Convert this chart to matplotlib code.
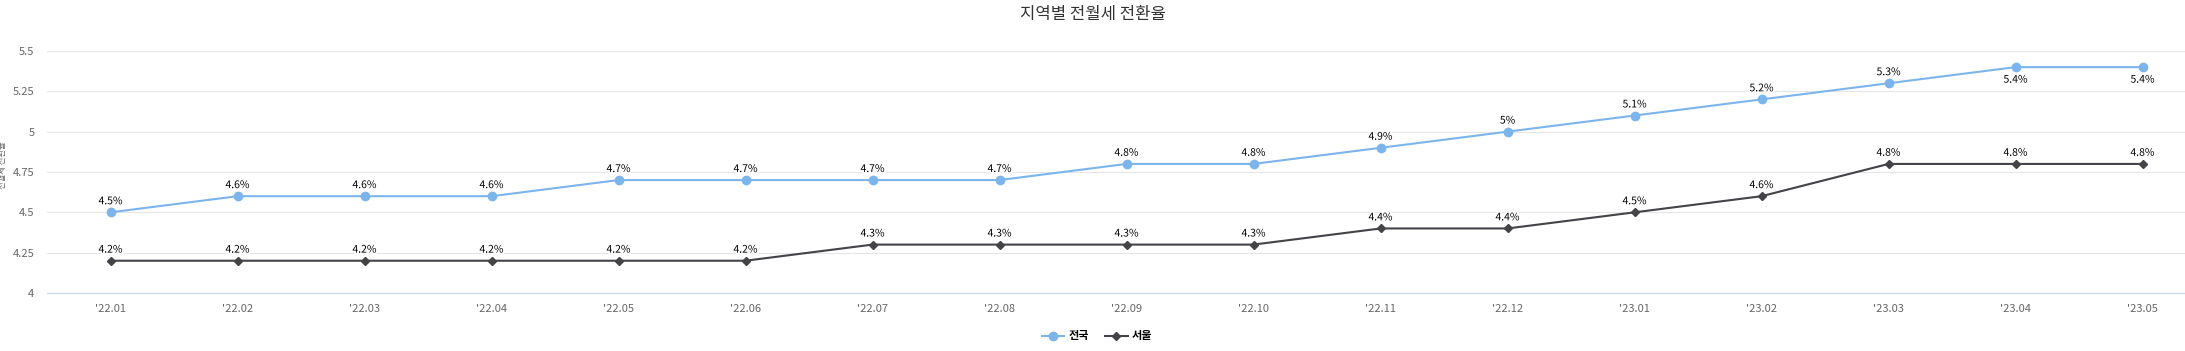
import numpy as np
import matplotlib
matplotlib.use("Agg")
import matplotlib.pyplot as plt
import matplotlib.patheffects as pe

plt.rcParams['font.family'] = ['Noto Sans CJK KR', 'DejaVu Sans']

months = ["'22.01", "'22.02", "'22.03", "'22.04", "'22.05", "'22.06", "'22.07", "'22.08", "'22.09",
          "'22.10", "'22.11", "'22.12", "'23.01", "'23.02", "'23.03", "'23.04", "'23.05"]
nationwide = [4.5, 4.6, 4.6, 4.6, 4.7, 4.7, 4.7, 4.7, 4.8, 4.8, 4.9, 5.0, 5.1, 5.2, 5.3, 5.4, 5.4]
seoul = [4.2, 4.2, 4.2, 4.2, 4.2, 4.2, 4.3, 4.3, 4.3, 4.3, 4.4, 4.4, 4.5, 4.6, 4.8, 4.8, 4.8]
y_ticks = [4, 4.25, 4.5, 4.75, 5, 5.25, 5.5]

W, H = 2185, 351
fig = plt.figure(figsize=(W / 100, H / 100), dpi=100)
ax = fig.add_axes([47 / W, 1 - 293 / H, (2206 - 47) / W, (293 - 51) / H])

x = np.arange(len(months))
ax.plot(x, nationwide, color='#7cb5ec', lw=1.5, marker='o', ms=6, label='전국', zorder=3)
ax.plot(x, seoul, color='#434348', lw=1.5, marker='D', ms=4, label='서울', zorder=3)

outline = [pe.withStroke(linewidth=2.5, foreground='white')]
for series in (nationwide, seoul):
    for i, v in enumerate(series):
        txt = f"{v:g}%"
        if v >= 5.4:
            ax.annotate(txt, (i, v), xytext=(0, -9), textcoords='offset points', ha='center', va='center',
                        fontsize=7.5, color='black', path_effects=outline, zorder=4)
        else:
            ax.annotate(txt, (i, v), xytext=(0, 8), textcoords='offset points', ha='center', va='center',
                        fontsize=7.5, color='black', path_effects=outline, zorder=4)

ax.set_xlim(-0.5, len(months) - 0.5)
ax.set_ylim(4, 5.5)
ax.set_xticks(x)
ax.set_xticklabels(months)
ax.set_yticks(y_ticks)
ax.set_yticklabels([f"{t:g}" for t in y_ticks])
ax.tick_params(axis='both', length=0, labelsize=8, colors='#666666')
ax.tick_params(axis='x', pad=8)
ax.tick_params(axis='y', pad=9)
ax.grid(axis='y', color='#e6e6e6', lw=0.8)
ax.set_axisbelow(True)
for s in ['top', 'right', 'left']:
    ax.spines[s].set_visible(False)
ax.spines['bottom'].set_color('#ccd6eb')
ax.spines['bottom'].set_linewidth(0.8)

fig.text(0.5, 1 - 15 / H, '지역별 전월세 전환율', ha='center', va='center', fontsize=12, color='#333333')
fig.text(3 / W, 1 - 165 / H, '전월세 전환율', rotation=90, ha='center', va='center', fontsize=6, color='#666666')

fig.legend(loc='center', bbox_to_anchor=(1097 / W, 1 - 336 / H), ncol=2, frameon=False,
           fontsize=8, handlelength=2, columnspacing=1.5, handletextpad=0.4,
           prop={'weight': 'bold', 'size': 8})

fig.savefig('out.png', dpi=100)
